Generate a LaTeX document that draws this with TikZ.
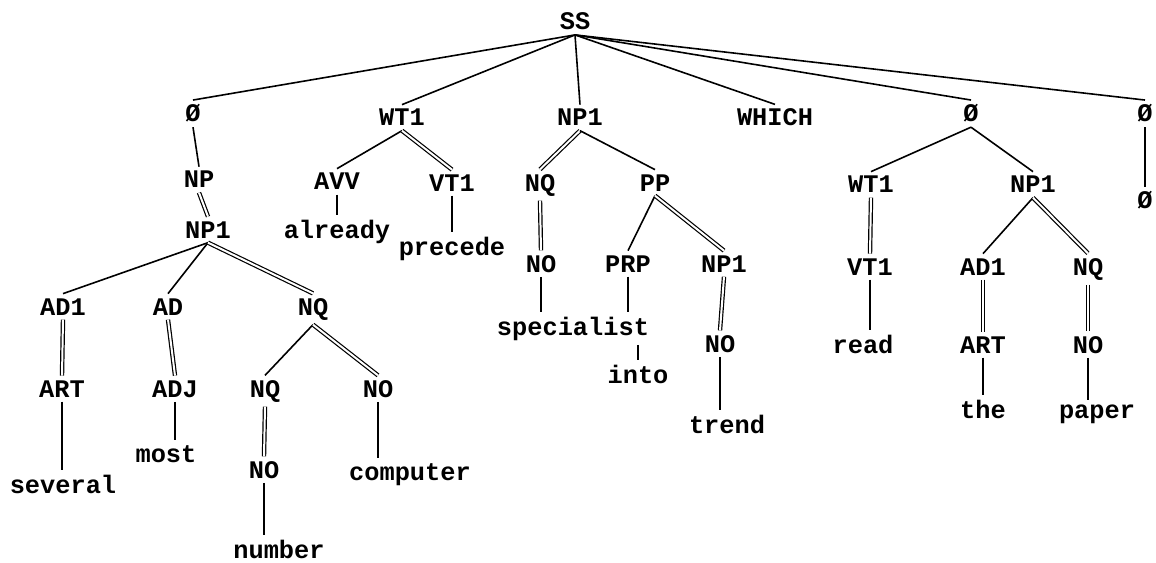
\documentclass[tikz,border=0pt]{standalone}
\usepackage{fontspec}
\setmonofont{Liberation Mono}
\begin{document}
\begin{tikzpicture}[x=0.75pt,y=-0.75pt,
  lab/.style={font=\ttfamily\bfseries\fontsize{19}{19}\selectfont, inner sep=0pt, outer sep=3.5pt, anchor=base},
  e/.style={line width=1.2pt},
  dbl/.style={line width=0.9pt, double distance=1.5pt, draw=black, double=white}]
\useasboundingbox (0,0) rectangle (1156,563);
% level 0/1
\node[lab] (SS) at (575,30) {SS};
\node[lab] (O1) at (193,122) {Ø};
\node[lab] (WTa) at (402,126) {WT1};
\node[lab] (NPa) at (580,126) {NP1};
\node[lab] (WHICH) at (775,126) {WHICH};
\node[lab] (O2) at (971,122) {Ø};
\node[lab] (O3) at (1145,122) {Ø};
% level 2
\node[lab] (NP) at (199,188) {NP};
\node[lab] (AVV) at (337,190) {AVV};
\node[lab] (VTa) at (452,191) {VT1};
\node[lab] (NQc) at (540,191) {NQ};
\node[lab] (PP) at (655,191) {PP};
\node[lab] (WTb) at (871,193) {WT1};
\node[lab] (NPd) at (1033,193) {NP1};
\node[lab] (O4) at (1145,209) {Ø};
% level 3
\node[lab] (NPb) at (208,238) {NP1};
\node[lab] (already) at (337,238) {already};
\node[lab] (precede) at (452,255) {precede};
\node[lab] (NOc) at (541,272) {NO};
\node[lab] (PRP) at (628,272) {PRP};
\node[lab] (NPc) at (724,272) {NP1};
\node[lab] (VTb) at (870,275) {VT1};
\node[lab] (AD1b) at (983,275) {AD1};
\node[lab] (NQd) at (1088,275) {NQ};
% left subtree
\node[lab] (AD1a) at (63,315) {AD1};
\node[lab] (ADa) at (168,315) {AD};
\node[lab] (NQa) at (313,315) {NQ};
\node[lab] (ARTa) at (62,397) {ART};
\node[lab] (ADJ) at (175,397) {ADJ};
\node[lab] (NQb) at (265,397) {NQ};
\node[lab] (NOa) at (378,397) {NO};
\node[lab] (most) at (166,462) {most};
\node[lab] (NOb) at (264,478) {NO};
\node[lab] (computer) at (410,480) {computer};
\node[lab] (several) at (63,493) {several};
\node[lab] (number) at (279,558) {number};
% middle and right leaves
\node[lab] (specialist) at (573,335) {specialist};
\node[lab] (NOd) at (720,352) {NO};
\node[lab] (read) at (863,353) {read};
\node[lab] (ARTb) at (983,353) {ART};
\node[lab] (NOe) at (1088,353) {NO};
\node[lab] (into) at (638,383) {into};
\node[lab] (the) at (983,418) {the};
\node[lab] (paper) at (1097,418) {paper};
\node[lab] (trend) at (727,433) {trend};
% edges from SS
\foreach \c in {O1,WTa,NPa,WHICH,O2,O3} \draw[e] (SS.south) -- (\c.north);
% left
\draw[e] (O1.south) -- (NP.north);
\draw[dbl] (NP.south) -- (NPb.north);
\draw[e] (NPb.south) -- (AD1a.north);
\draw[e] (NPb.south) -- (ADa.north);
\draw[dbl] (NPb.south) -- (NQa.north);
\draw[dbl] (AD1a.south) -- (ARTa.north);
\draw[e] (ARTa.south) -- (ARTa.south |- several.north);
\draw[dbl] (ADa.south) -- (ADJ.north);
\draw[e] (ADJ.south) -- (ADJ.south |- most.north);
\draw[e] (NQa.south) -- (NQb.north);
\draw[dbl] (NQa.south) -- (NOa.north);
\draw[dbl] (NQb.south) -- (NOb.north);
\draw[e] (NOb.south) -- (NOb.south |- number.north);
\draw[e] (NOa.south) -- (NOa.south |- computer.north);
% WT1
\draw[e] (WTa.south) -- (AVV.north);
\draw[dbl] (WTa.south) -- (VTa.north);
\draw[e] (AVV.south) -- (AVV.south |- already.north);
\draw[e] (VTa.south) -- (VTa.south |- precede.north);
% NP1 middle
\draw[dbl] (NPa.south) -- (NQc.north);
\draw[e] (NPa.south) -- (PP.north);
\draw[dbl] (NQc.south) -- (NOc.north);
\draw[e] (NOc.south) -- (NOc.south |- specialist.north);
\draw[e] (PP.south) -- (PRP.north);
\draw[dbl] (PP.south) -- (NPc.north);
\draw[e] (PRP.south) -- (PRP.south |- specialist.north);
\draw[e] (into.north |- specialist.south) -- (into.north);
\draw[dbl] (NPc.south) -- (NOd.north);
\draw[e] (NOd.south) -- (NOd.south |- trend.north);
% right
\draw[e] (O2.south) -- (WTb.north);
\draw[e] (O2.south) -- (NPd.north);
\draw[dbl] (WTb.south) -- (VTb.north);
\draw[e] (VTb.south) -- (VTb.south |- read.north);
\draw[e] (NPd.south) -- (AD1b.north);
\draw[dbl] (NPd.south) -- (NQd.north);
\draw[dbl] (AD1b.south) -- (ARTb.north);
\draw[e] (ARTb.south) -- (ARTb.south |- the.north);
\draw[dbl] (NQd.south) -- (NOe.north);
\draw[e] (NOe.south) -- (NOe.south |- paper.north);
\draw[e] (O3.south) -- (O4.north);
\end{tikzpicture}
\end{document}
